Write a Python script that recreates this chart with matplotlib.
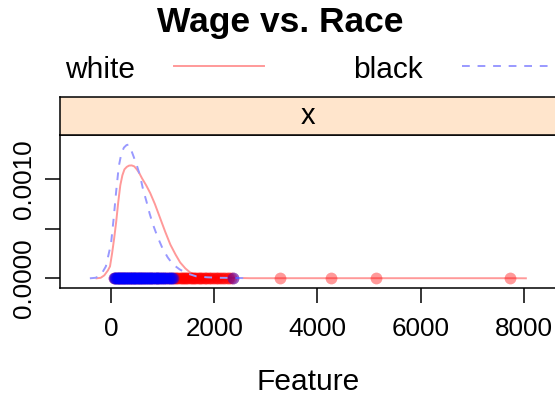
import matplotlib
matplotlib.use('Agg')
import matplotlib.pyplot as plt
from matplotlib.lines import Line2D

plt.rcParams['font.family'] = ['Liberation Sans', 'DejaVu Sans']

W, H = 555, 398
WHITE_LINE = '#FF9999'
BLACK_LINE = '#9999FF'
STRIP_COLOR = '#FFE5CC'

# density curves
white_x = [-280, -200, -130, -60, -20, 20, 60, 100, 140, 180, 220, 260, 305, 350, 400,
           450, 500, 550, 600, 680, 760, 850, 950, 1050, 1150, 1250, 1340, 1440, 1530,
           1650, 1860, 2100, 2400, 2700, 3300, 4300, 5150, 7700, 8040]
white_y = [0, 0.000005, 0.00003, 0.00008, 0.00012, 0.00025, 0.00040, 0.00057, 0.00077,
           0.00094, 0.00104, 0.00110, 0.001125, 0.001138, 0.00114, 0.00113, 0.00110,
           0.00106, 0.00101, 0.00094, 0.00086, 0.00075, 0.00061, 0.00047, 0.00034,
           0.00024, 0.00016, 0.00010, 0.00006, 0.00003, 0.00001, 0.000006, 0.000004,
           0.000001, 0.000001, 0.000001, 0.000001, 0.000001, 0]

black_x = [-410, -300, -200, -100, 0, 50, 100, 150, 200, 250, 300, 340, 380, 430, 500,
           560, 620, 690, 750, 815, 900, 1000, 1100, 1200, 1330, 1470, 1650, 1860, 2100,
           2400, 2700]
black_y = [0, 0.000005, 0.00003, 0.00012, 0.00035, 0.00060, 0.00088, 0.00113, 0.00126,
           0.00132, 0.001345, 0.00135, 0.00131, 0.00124, 0.00114, 0.00104, 0.00090,
           0.00077, 0.00065, 0.00054, 0.00042, 0.00030, 0.00021, 0.00014, 0.00009,
           0.00005, 0.00002, 0.00001, 0.000005, 0.000004, 0]

# individual observations (rug points at y = 0)
white_wage = [58, 85, 112, 137, 166, 190, 221, 247, 276, 301, 329, 358, 384, 413, 440,
              468, 497, 523, 556, 589, 617, 648, 682, 713, 749, 781, 812, 848, 883, 915,
              952, 990, 1027, 1063, 1101, 1142, 1180, 1219, 1245, 1263, 1287, 1305, 1331,
              1348, 1370, 1389, 1411, 1432, 1455, 1478, 1500, 1521, 1544, 1566, 1588,
              1610, 1633, 1655, 1680, 1703, 1726, 1748, 1772, 1796, 1820, 1842, 1868,
              1893, 1920, 1946, 1972, 1998, 2025, 2052, 2080, 2110, 2140, 2168, 2196,
              2226, 2260, 2290, 2330, 2370, 3280, 4262, 5143, 7725]
black_wage = [55, 70, 85, 101, 114, 126, 138, 150, 162, 173, 186, 199, 211, 224, 236,
              248, 261, 273, 285, 297, 310, 322, 335, 348, 360, 372, 385, 397, 410, 423,
              436, 449, 462, 474, 487, 500, 514, 527, 540, 553, 566, 580, 593, 607, 621,
              636, 650, 664, 678, 693, 707, 722, 737, 752, 767, 783, 799, 815, 831, 848,
              865, 882, 899, 917, 935, 953, 971, 990, 1010, 1030, 1052, 1075, 1098, 1120,
              1143, 1165, 1185, 1200, 2370]

fig = plt.figure(figsize=(W / 100, H / 100), dpi=100)

def fx(px):
    return px / W

def fy(py):
    return 1 - py / H

# panel
ax = fig.add_axes([fx(60), fy(288), fx(556) - fx(60), fy(135) - fy(288)])
ax.plot(white_x, white_y, color=WHITE_LINE, lw=1.4)
ax.plot(white_wage, [0] * len(white_wage), 'o', color='red', alpha=0.4,
        markersize=8.5, markeredgewidth=0)
ax.plot(black_x, black_y, color=BLACK_LINE, lw=1.4, linestyle=(0, (4, 4)))
ax.plot(black_wage, [0] * len(black_wage), 'o', color='blue', alpha=0.4,
        markersize=8.5, markeredgewidth=0)

ax.set_xlim(-989, 8624)
ax.set_ylim(-0.000098, 0.001447)
ax.set_xticks([0, 2000, 4000, 6000, 8000])
ax.set_yticks([0, 0.0005, 0.0010])
ax.set_yticklabels(['0.0000', '', '0.0010'], rotation=90, va='center')
ax.tick_params(axis='both', direction='out', length=11, width=1.1, labelsize=18.7)
ax.tick_params(axis='x', pad=10)
ax.tick_params(axis='y', pad=6)
for sp in ax.spines.values():
    sp.set_linewidth(1.1)

# strip
sax = fig.add_axes([fx(60), fy(135), fx(556) - fx(60), fy(97) - fy(135)])
sax.set_facecolor(STRIP_COLOR)
sax.set_xticks([])
sax.set_yticks([])
for sp in sax.spines.values():
    sp.set_linewidth(1.1)
sax.text(0.5, 0.5, 'x', transform=sax.transAxes, ha='center', va='center', fontsize=21)

# title, key and axis label
fig.text(fx(280), fy(32), 'Wage vs. Race', ha='center', va='baseline',
         fontsize=25.5, fontweight='bold')
fig.text(fx(65), fy(78), 'white', ha='left', va='baseline', fontsize=21.5)
fig.text(fx(353), fy(78), 'black', ha='left', va='baseline', fontsize=21.5)
fig.add_artist(Line2D([fx(174), fx(264)], [fy(66), fy(66)], color=WHITE_LINE, lw=1.4))
fig.add_artist(Line2D([fx(462), fx(570)], [fy(66), fy(66)], color=BLACK_LINE, lw=1.4,
                      linestyle=(0, (4, 4))))
fig.text(fx(308), fy(390), 'Feature', ha='center', va='baseline', fontsize=21.5)

fig.savefig('out.png', dpi=100)
